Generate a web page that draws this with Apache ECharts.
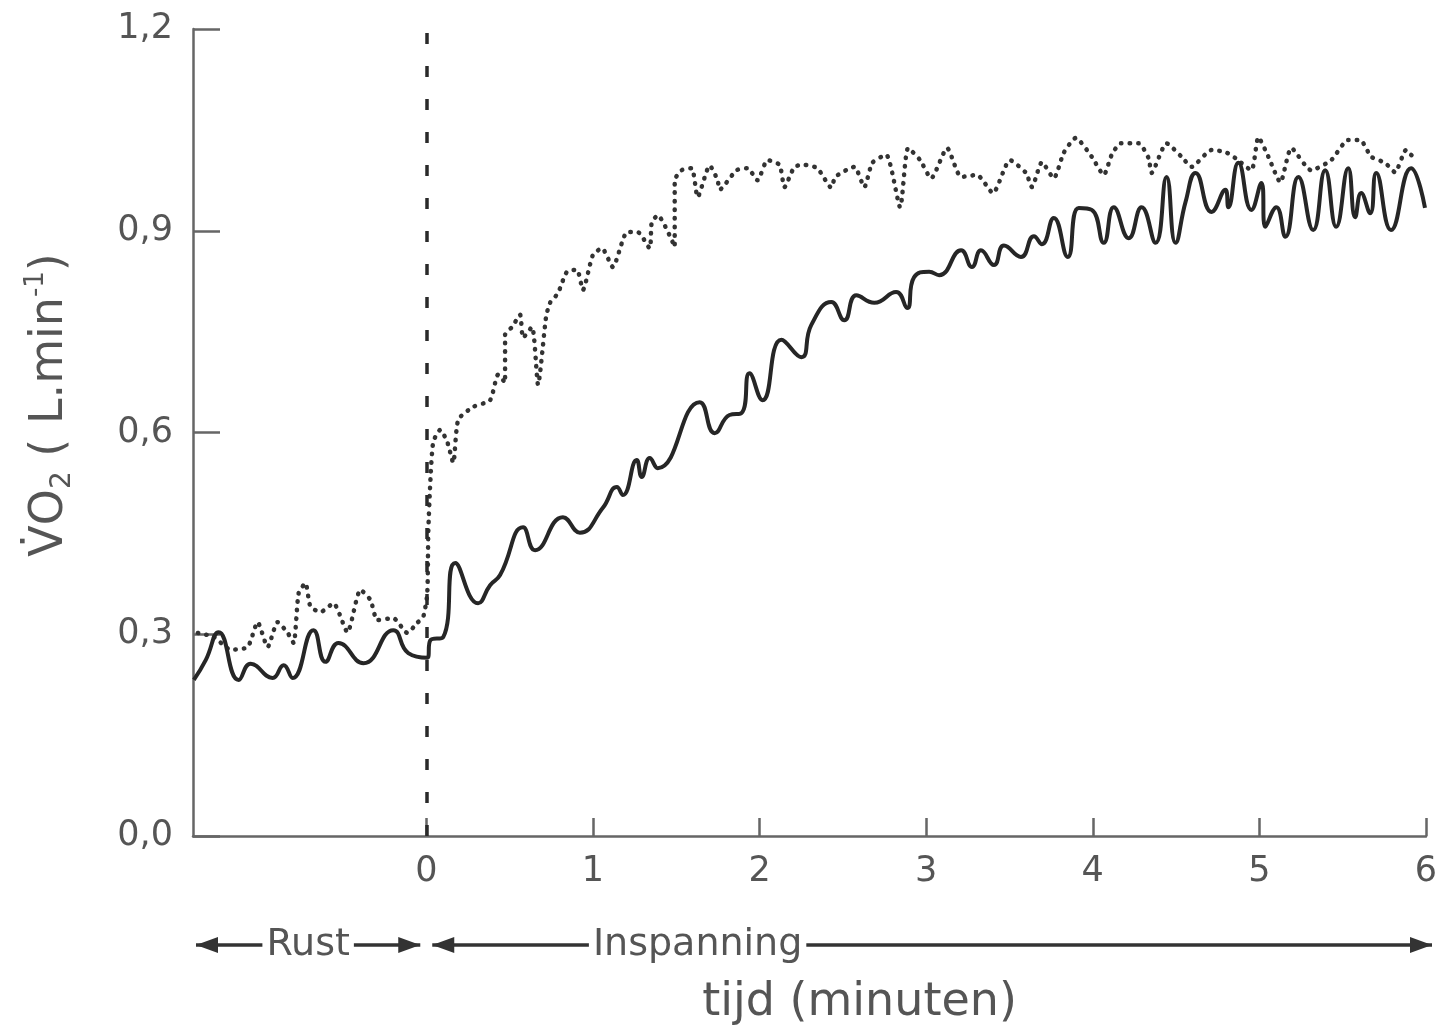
<!DOCTYPE html>
<html>
<head>
<meta charset="utf-8">
<script src="https://cdn.jsdelivr.net/npm/echarts@6/dist/echarts.min.js"></script>
<style>
html, body { margin: 0; padding: 0; background: #fff; }
#mychart { width: 1435px; height: 1032px; }
</style>
</head>
<body>
<div id="mychart"></div>
<script>
"use strict";
// tijd in minuten (x) en VO2 in L/min (y)
const solidTime = [-1.395, -1.323, -1.246, -1.126, -1.054, -0.922, -0.856, -0.802, -0.677, -0.605,
    -0.527, -0.377, -0.198, -0.108, 0.006, 0.024, 0.102, 0.174, 0.311, 0.383,
    0.443, 0.581, 0.653, 0.820, 0.922, 1.060, 1.144, 1.180, 1.263, 1.293,
    1.341, 1.389, 1.641, 1.731, 1.820, 1.892, 1.940, 2.018, 2.132, 2.251,
    2.311, 2.431, 2.509, 2.581, 2.689, 2.820, 2.886, 2.928, 3.018, 3.078,
    3.210, 3.275, 3.329, 3.407, 3.467, 3.569, 3.647, 3.695, 3.766, 3.850,
    3.916, 3.994, 4.066, 4.126, 4.216, 4.293, 4.377, 4.443, 4.497, 4.557,
    4.617, 4.713, 4.796, 4.814, 4.874, 4.952, 5.012, 5.036, 5.102, 5.156,
    5.234, 5.323, 5.395, 5.461, 5.533, 5.575, 5.611, 5.665, 5.701, 5.790,
    5.910, 5.994];
const solidValue = [0.232, 0.262, 0.303, 0.232, 0.256, 0.235, 0.254, 0.235, 0.306, 0.259,
    0.287, 0.257, 0.306, 0.272, 0.265, 0.291, 0.296, 0.406, 0.346, 0.373,
    0.388, 0.459, 0.425, 0.474, 0.451, 0.488, 0.519, 0.507, 0.559, 0.534,
    0.562, 0.547, 0.645, 0.599, 0.626, 0.629, 0.688, 0.648, 0.738, 0.712,
    0.760, 0.794, 0.767, 0.804, 0.793, 0.809, 0.785, 0.831, 0.839, 0.834,
    0.871, 0.846, 0.871, 0.849, 0.878, 0.861, 0.892, 0.880, 0.919, 0.861,
    0.934, 0.931, 0.882, 0.935, 0.889, 0.935, 0.882, 0.980, 0.882, 0.943,
    0.986, 0.928, 0.961, 0.935, 1.001, 0.931, 0.971, 0.906, 0.935, 0.891,
    0.980, 0.901, 0.990, 0.906, 0.993, 0.920, 0.956, 0.926, 0.986, 0.901,
    0.993, 0.934];

const dottedTime = [-1.371, -1.275, -1.174, -1.072, -1.012, -0.952, -0.892, -0.832, -0.796, -0.766,
    -0.725, -0.695, -0.635, -0.557, -0.473, -0.395, -0.335, -0.293, -0.198, -0.114,
    -0.054, -0.018, 0.006, 0.012, 0.024, 0.042, 0.084, 0.126, 0.162, 0.192,
    0.281, 0.383, 0.431, 0.473, 0.473, 0.515, 0.563, 0.581, 0.635, 0.671,
    0.719, 0.743, 0.790, 0.844, 0.904, 0.940, 1.000, 1.054, 1.120, 1.174,
    1.204, 1.269, 1.341, 1.353, 1.389, 1.491, 1.491, 1.533, 1.593, 1.629,
    1.701, 1.749, 1.760, 1.862, 1.928, 1.988, 2.048, 2.120, 2.150, 2.210,
    2.269, 2.347, 2.431, 2.455, 2.569, 2.629, 2.677, 2.760, 2.844, 2.892,
    2.964, 3.030, 3.126, 3.210, 3.305, 3.401, 3.503, 3.599, 3.635, 3.695,
    3.766, 3.826, 3.898, 3.994, 4.066, 4.114, 4.168, 4.275, 4.335, 4.353,
    4.443, 4.533, 4.593, 4.713, 4.796, 4.856, 4.952, 4.994, 5.054, 5.126,
    5.192, 5.311, 5.431, 5.533, 5.605, 5.671, 5.754, 5.814, 5.880, 5.910,
    5.952];
const dottedValue = [0.302, 0.296, 0.277, 0.281, 0.318, 0.281, 0.318, 0.302, 0.287, 0.361,
    0.376, 0.341, 0.333, 0.346, 0.303, 0.366, 0.351, 0.321, 0.324, 0.302,
    0.317, 0.326, 0.361, 0.451, 0.525, 0.586, 0.604, 0.586, 0.555, 0.619,
    0.638, 0.648, 0.686, 0.674, 0.745, 0.757, 0.775, 0.741, 0.757, 0.671,
    0.772, 0.793, 0.807, 0.839, 0.842, 0.812, 0.864, 0.874, 0.846, 0.882,
    0.898, 0.898, 0.874, 0.912, 0.923, 0.876, 0.975, 0.990, 0.993, 0.950,
    0.997, 0.975, 0.961, 0.990, 0.993, 0.975, 1.005, 0.998, 0.965, 0.995,
    0.998, 0.993, 0.964, 0.980, 0.995, 0.965, 1.001, 1.013, 0.935, 1.023,
    1.005, 0.978, 1.023, 0.980, 0.983, 0.956, 1.005, 0.986, 0.965, 1.002,
    0.978, 1.016, 1.038, 1.010, 0.983, 1.013, 1.030, 1.030, 1.008, 0.986,
    1.030, 1.010, 0.995, 1.020, 1.017, 1.008, 0.990, 1.039, 1.010, 0.972,
    1.023, 0.990, 1.005, 1.035, 1.035, 1.010, 1.001, 0.987, 1.020, 1.013,
    1.005];

const xTicks = [0, 1, 2, 3, 4, 5, 6];
const yTicks = [0, 0.3, 0.6, 0.9, 1.2];
const phaseLabels = ['Rust', 'Inspanning'];
const xTitle = 'tijd (minuten)';

const container = document.getElementById('mychart');
const myChart = echarts.init(container, null, { renderer: 'canvas' });

const axisColor = '#666';
const textColor = '#555';
const font = 'DejaVu Sans';

const option = {
    backgroundColor: '#fff',
    animation: false,
    grid: {
        left: 193,
        right: 9,
        top: 29,
        bottom: 196,
        outerBoundsMode: 'none'
    },
    xAxis: {
        type: 'value',
        min: -1.4,
        max: 6,
        splitLine: { show: false },
        axisLine: { onZero: false, lineStyle: { color: axisColor, width: 2.5 } },
        axisTick: {
            inside: true,
            length: 18,
            customValues: xTicks,
            lineStyle: { color: axisColor, width: 2.5 }
        },
        axisLabel: {
            customValues: xTicks,
            fontSize: 35,
            fontFamily: font,
            color: textColor,
            margin: 18
        }
    },
    yAxis: {
        type: 'value',
        min: yTicks[0],
        max: yTicks[yTicks.length - 1],
        interval: 0.3,
        splitLine: { show: false },
        axisLine: { show: true, onZero: false, lineStyle: { color: axisColor, width: 2.5 } },
        axisTick: {
            show: true,
            inside: true,
            length: 27,
            lineStyle: { color: axisColor, width: 2.5 }
        },
        axisLabel: {
            fontSize: 35,
            fontFamily: font,
            color: textColor,
            margin: 20,
            formatter: v => v.toFixed(1).replace('.', ',')
        }
    },
    series: [
        {
            name: 'gestippeld',
            type: 'line',
            data: dottedTime.map((t, i) => [t, dottedValue[i]]),
            showSymbol: false,
            smooth: 0.2,
            lineStyle: { color: '#333', width: 4.5, type: [0.5, 8], cap: 'round' },
            z: 3
        },
        {
            name: 'doorgetrokken',
            type: 'line',
            data: solidTime.map((t, i) => [t, solidValue[i]]),
            showSymbol: false,
            smooth: 0.5,
            lineStyle: { color: '#262626', width: 4 },
            z: 4,
            markLine: {
                silent: true,
                symbol: ['none', 'none'],
                label: { show: false },
                lineStyle: { color: '#2a2a2a', width: 3.5, type: [11, 22] },
                data: [{ xAxis: 0 }]
            }
        }
    ]
};
myChart.setOption(option);

// pijlen en titels onder de as, geplaatst via de x-schaal
function px(v) {
    return myChart.convertToPixel({ xAxisIndex: 0 }, v);
}
function arrowHead(tipX, y, dir) {
    return {
        type: 'polygon',
        shape: { points: [[tipX, y], [tipX - dir * 22, y - 8], [tipX - dir * 22, y + 8]] },
        style: { fill: '#333' },
        z: 10
    };
}
const rowY = 945;
const restStart = px(-1.4) + 3;
const restEnd = px(0) - 6;
const workStart = px(0) + 6;
const workEnd = px(6) + 6;
const lineStyle = { stroke: '#333', lineWidth: 3.5 };

const graphic = [
    { type: 'line', shape: { x1: restStart, y1: rowY, x2: restEnd, y2: rowY }, style: lineStyle, z: 9 },
    arrowHead(restStart, rowY, -1),
    arrowHead(restEnd, rowY, 1),
    {
        type: 'text', z: 11,
        x: (restStart + restEnd) / 2, y: rowY,
        style: {
            text: phaseLabels[0], fontSize: 38, fontFamily: font, fill: textColor,
            align: 'center', verticalAlign: 'middle',
            backgroundColor: '#fff', padding: [0, 4]
        }
    },
    { type: 'line', shape: { x1: workStart, y1: rowY, x2: workEnd, y2: rowY }, style: lineStyle, z: 9 },
    arrowHead(workStart, rowY, -1),
    arrowHead(workEnd, rowY, 1),
    {
        type: 'text', z: 11,
        x: px(1) - 4, y: rowY,
        style: {
            text: phaseLabels[1], fontSize: 38, fontFamily: font, fill: textColor,
            align: 'left', verticalAlign: 'middle',
            backgroundColor: '#fff', padding: [0, 4]
        }
    },
    {
        type: 'text', z: 11,
        x: px(2.6), y: 1003,
        style: {
            text: xTitle, fontSize: 46, fontFamily: font, fill: textColor,
            align: 'center', verticalAlign: 'middle'
        }
    },
    {
        type: 'text', z: 11,
        x: 50, y: 405,
        rotation: Math.PI / 2,
        style: {
            text: '{a|V\u0307O}{s|2}{a| ( L.min}{p|-1}{a|)}',
            align: 'center', verticalAlign: 'middle',
            fill: textColor,
            rich: {
                a: { fontSize: 46, lineHeight: 54, fontFamily: font, fill: textColor },
                s: { fontSize: 28, lineHeight: 28, verticalAlign: 'bottom', fontFamily: font, fill: textColor },
                p: { fontSize: 26, lineHeight: 26, verticalAlign: 'top', fontFamily: font, fill: textColor }
            }
        }
    }
];
myChart.setOption({ graphic: graphic });
</script>
</body>
</html>
